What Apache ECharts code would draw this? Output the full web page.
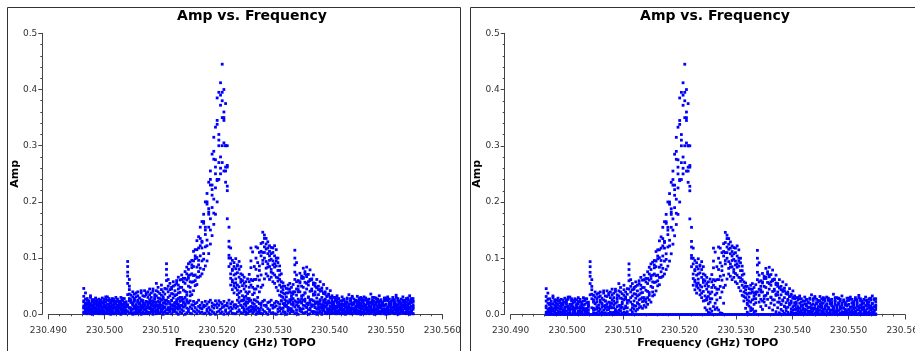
<!DOCTYPE html>
<html><head><meta charset="utf-8">
<script src="https://cdn.jsdelivr.net/npm/echarts@6/dist/echarts.min.js"></script>
<style>html,body{margin:0;padding:0;background:#fff}#c{width:915px;height:351px}</style>
</head><body><div id="c"></div>
<script>
// Channel grid (spectral window): first channel frequency and channel width, GHz
const chanStart = 230.4963;
const chanWidth = 0.0003;
const nChan = 196;
const chanFreq = Array.from({length: nChan}, (_, i) => chanStart + i * chanWidth);

// Amplitudes in units of 0.001 (line dataset, 6 baselines)
const lineAmp1 = [46,38,28,24,30,22,26,29,21,27, 25,29,22,27,31,24,20,28,26,23, 27,22,30,25,21,18,94,62,34,31,
 36,31,40,29,38,33,42,35,30,45, 38,41,35,55,48,37,44,40,46,90, 62,55,48,58,52,60,66,61,70,64,
 76,84,80,93,96,112,115,131,138,155, 165,178,200,215,235,255,285,315,333,385, 395,412,445,400,375,300,155,118,96,92,
 99,88,94,85,70,66,58,63,71,118, 111,85,120,118,110,126,146,141,135,129, 122,119,110,104,115,100,86,72,56,50,
 46,52,55,48,53,114,92,60,73,68, 82,76,84,71,79,63,70,55,62,50, 58,47,53,40,46,36,42,33,
 30,26,33,28,24,31,27,22,29,35, 25,30,27,23,32,28,26,24,31,29, 22,27,36,25,30,28,24,33,26,21, 29,25,31,27,23,30,26,34,28,24, 27,31,25,22,29,33,26,28];
const lineAmp2 = [24,20,17,14,19,16,12,18,15,20, 17,13,19,15,12,18,14,11,16,19, 14,16,12,18,11,13,75,44,22,19,
 23,17,25,20,15,24,19,22,16,26, 24,20,27,33,29,22,26,31,25,80, 40,33,37,29,42,35,45,39,48,43,
 55,61,69,70,83,85,99,101,118,122, 128,162,150,196,178,230,212,276,250,338, 300,372,395,345,300,262,130,90,78,70,
 81,74,66,62,51,45,40,37,48,83, 60,62,80,92,86,104,128,120,116,108, 112,98,95,90,86,78,70,58,44,36,
 31,38,40,33,36,88,70,44,56,50, 64,57,67,52,60,45,53,40,47,35, 41,30,37,27,32,24,29,21,
 18,14,20,16,12,19,15,21,13,17, 11,16,19,14,18,12,20,15,17,13, 19,15,12,18,16,21,14,17,11,19, 15,18,13,20,16,12,19,14,17,21, 13,16,18,12,15,19,14,17];
const lineAmp3 = [12,9,11,7,10,6,9,12,5,10, 8,11,6,9,7,10,5,8,11,6, 9,5,8,6,7,8,55,28,11,9,
 10,12,9,13,8,11,14,9,12,12, 12,9,14,16,11,13,10,15,12,60, 22,18,24,15,21,26,28,23,30,27,
 41,39,50,48,57,69,70,84,88,104, 118,108,142,132,182,170,222,205,262,240, 310,280,350,305,262,228,105,72,61,55,
 63,52,49,41,33,26,19,22,28,52, 35,38,45,50,61,70,96,100,94,90, 85,80,73,70,66,59,52,40,30,20,
 15,22,26,18,21,62,45,27,40,33, 48,38,45,31,41,26,34,22,29,18, 24,15,21,13,17,10,14,9,
 9,6,11,7,10,5,8,12,6,9, 7,10,5,11,8,6,9,12,7,10, 5,8,11,6,9,7,10,5,12,8, 6,9,11,7,10,5,8,12,6,9, 11,7,10,5,8,12,6,9];
const lineAmp4 = [4,2,5,3,1,4,2,3,2,4, 2,4,1,3,2,1,3,2,1,3, 2,3,1,4,2,3,35,12,3,2,
 3,1,2,4,2,3,1,2,4,3, 4,2,5,3,6,2,4,3,5,25, 8,5,10,6,9,12,14,11,16,13,
 18,26,22,33,35,42,51,53,66,68, 72,80,86,95,108,125,140,160,178,200, 240,250,270,255,235,170,85,52,44,38,
 47,35,30,24,12,8,4,2,6,14, 9,12,8,3,2,20,52,63,72,68, 62,66,58,55,48,42,34,24,11,4,
 1,7,9,5,6,40,22,14,9,22, 16,27,12,20,8,17,5,12,3,9, 6,2,7,4,1,5,3,2,
 3,1,4,2,2,3,1,4,2,3, 1,2,4,3,1,2,3,1,4,2, 3,1,2,4,3,1,2,3,1,4, 2,3,1,2,4,3,1,2,3,1, 4,2,3,1,2,4,3,1];
const lineAmp5 = [15,27,8,19,33,11,21,6,25,14, 20,7,26,12,18,28,9,23,15,30, 6,19,24,10,28,16,85,50,26,40,
 28,6,33,18,42,24,8,38,21,35, 17,45,30,8,40,19,52,28,36,70, 50,12,45,36,20,55,38,48,25,58,
 30,72,64,40,88,58,104,66,96,82, 130,98,155,122,188,150,230,180,275,238, 320,260,380,350,300,265,120,100,58,85,
 72,43,80,57,25,55,32,10,40,95, 48,26,100,68,40,112,110,135,82,118, 96,108,88,122,100,92,62,48,38,26,
 38,12,45,28,40,100,58,40,24,64, 34,72,55,30,62,42,56,35,48,18, 44,14,38,25,32,20,30,16,
 22,10,28,15,8,24,18,6,27,12, 19,32,9,25,14,21,5,28,16,11, 26,18,7,23,13,29,10,20,4,17, 24,8,27,14,19,6,22,30,12,18, 9,25,15,28,11,20,7,23];
const lineAmp6 = [32,5,20,12,7,26,16,24,10,18, 6,22,14,31,9,15,25,4,19,12, 23,11,17,28,5,22,68,36,8,20,
 14,38,22,4,26,16,32,13,40,20, 30,6,22,42,16,28,34,12,20,45, 30,44,16,50,33,18,52,30,62,22,
 64,34,90,58,72,95,60,115,76,135, 95,165,120,200,155,240,190,290,225,345, 270,390,300,360,255,220,100,64,80,50,
 56,86,38,72,60,30,50,28,58,62, 20,45,62,30,78,48,90,110,125,84, 104,75,118,84,95,65,78,32,50,18,
 24,45,10,38,28,75,34,50,58,28, 66,38,70,58,26,62,36,50,22,44, 26,42,12,36,20,34,8,28,
 12,30,5,22,17,9,26,13,20,4, 28,11,21,7,24,16,30,10,19,25, 8,22,14,30,6,18,27,12,23,9, 16,29,5,21,11,26,15,8,24,13, 20,4,22,17,26,10,28,14];

// Continuum-only baselines (left panel), units of 0.001
const noiseAmp1 = [22,18,25,20,16,24,19,23,17,21, 24,20,16,22,25,18,21,17,23,19, 16,23,20,25,18,22,17,24,21,19, 25,17,22,19,24,20,16,23,18,21,
 19,24,17,21,23,16,25,20,22,18, 23,19,25,17,20,22,18,24,16,21, 18,22,20,24,17,23,19,21,25,16, 21,16,23,18,22,25,20,17,24,19,
 24,21,18,23,16,20,25,19,22,17, 17,25,21,16,24,18,22,20,23,25, 20,18,24,22,19,17,23,25,16,21, 22,25,16,20,23,21,18,24,19,17,
 16,20,22,25,18,24,17,21,23,20, 25,23,19,17,21,16,24,18,20,22, 19,17,25,21,16,22,20,23,18,24, 23,21,18,16,25,19,22,17,24,20,
 18,24,20,23,17,21,25,16,22,19, 21,19,23,18,22,24,16,20,25,17, 24,16,21,25,20,18,23,19,17,22, 17,22,19,24,21,23];
const noiseAmp2 = [11,14,8,12,15,9,13,10,16,7, 13,9,15,11,8,14,10,16,12,9, 8,12,10,15,13,7,14,11,9,16, 14,10,13,8,11,16,9,12,15,10,
 9,15,11,14,7,12,16,10,13,8, 12,8,16,10,14,11,9,15,8,13, 15,11,9,13,10,16,12,8,14,11, 10,13,15,9,12,8,14,11,16,12,
 16,9,12,14,8,15,11,13,10,14, 11,14,8,16,13,10,15,9,12,7, 13,10,14,11,9,12,8,16,14,10, 8,16,11,13,15,9,12,10,11,15,
 14,12,9,10,16,13,8,15,11,9, 10,15,13,8,11,14,16,12,9,13, 12,9,16,14,10,8,13,11,15,12, 15,13,10,12,8,16,9,14,11,10,
 9,11,14,16,13,10,15,8,12,14, 14,8,12,9,15,11,13,16,10,8, 11,16,9,13,12,14,10,9,15,13, 13,10,15,11,8,12];
const noiseAmp3 = [2,4,1,5,3,0,4,2,6,1, 3,1,5,2,4,6,0,3,1,5, 4,2,0,3,6,1,5,2,4,0, 1,5,3,6,0,4,2,5,1,3,
 5,0,4,1,3,2,6,0,4,2, 2,6,1,4,5,3,0,4,2,6, 0,3,5,2,1,6,4,1,5,3, 4,1,2,6,3,0,5,3,0,4,
 6,2,4,0,5,1,3,6,2,1, 1,4,6,3,2,5,0,2,4,6, 3,5,0,4,6,2,1,5,3,0, 5,2,3,1,0,4,6,1,5,2,
 0,6,2,5,4,1,3,0,6,4, 2,3,4,0,1,5,2,4,0,3, 4,0,6,2,5,3,1,6,2,5, 1,5,1,4,2,0,6,3,5,1,
 6,2,3,5,0,4,2,1,3,6, 3,4,0,1,6,2,5,4,1,0, 5,1,4,3,2,6,0,3,6,2, 2,3,5,0,4,1];
// Flagged points (right panel) sit at zero amplitude
const flaggedAmp = 0;

const xTicks = {min: 230.49, max: 230.56, step: 0.01};
const yTicks = {min: 0, max: 0.5, step: 0.1};

function toPoints(rows) {
  const out = [];
  rows.forEach(r => r.forEach((v, i) => out.push([chanFreq[i], v / 1000])));
  return out;
}
const linePts = toPoints([lineAmp1, lineAmp2, lineAmp3, lineAmp4, lineAmp5, lineAmp6]);
const noisePts = toPoints([noiseAmp1, noiseAmp2, noiseAmp3]);
const flagPts = chanFreq.map(f => [f, flaggedAmp]);

const FONT = 'DejaVu Sans';
function xAx(gi) {
  return {
    gridIndex: gi, type: 'value', min: xTicks.min, max: xTicks.max, interval: xTicks.step, offset: 6,
    name: 'Frequency (GHz) TOPO', nameLocation: 'middle', nameGap: 17, nameMoveOverlap: false,
    nameTextStyle: {fontFamily: FONT, fontWeight: 'bold', fontSize: 11, color: '#000'},
    axisLine: {show: true, lineStyle: {color: '#444', width: 1}},
    axisTick: {show: true, length: 5, lineStyle: {color: '#444'}},
    minorTick: {show: true, splitNumber: 5, length: 2, lineStyle: {color: '#444'}},
    splitLine: {show: false},
    axisLabel: {fontFamily: FONT, fontSize: 9, color: '#333', margin: 6, formatter: v => v.toFixed(3)}
  };
}
function yAx(gi) {
  return {
    gridIndex: gi, type: 'value', min: yTicks.min, max: yTicks.max, interval: yTicks.step, offset: 6,
    name: 'Amp', nameLocation: 'middle', nameGap: 22, nameRotate: 90, nameMoveOverlap: false,
    nameTextStyle: {fontFamily: FONT, fontWeight: 'bold', fontSize: 11, color: '#000'},
    axisLine: {show: true, lineStyle: {color: '#444', width: 1}},
    axisTick: {show: true, length: 4, lineStyle: {color: '#444'}},
    minorTick: {show: true, splitNumber: 5, length: 2, lineStyle: {color: '#444'}},
    splitLine: {show: false},
    axisLabel: {fontFamily: FONT, fontSize: 9, color: '#333', margin: 5, formatter: v => v.toFixed(1)}
  };
}
function sc(gi, data) {
  return {type: 'scatter', xAxisIndex: gi, yAxisIndex: gi, data, symbol: 'rect', symbolSize: 2.8,
    itemStyle: {color: '#0000ff', opacity: 1}, silent: true, clip: true};
}
const chart = echarts.init(document.getElementById('c'), null, {renderer: 'canvas'});
chart.setOption({
  animation: false,
  backgroundColor: '#fff',
  title: [
    {text: 'Amp vs. Frequency', left: 252, top: 9, textAlign: 'center', padding: 0,
     textStyle: {fontFamily: FONT, fontWeight: 'bold', fontSize: 14, color: '#000'}},
    {text: 'Amp vs. Frequency', left: 715, top: 9, textAlign: 'center', padding: 0,
     textStyle: {fontFamily: FONT, fontWeight: 'bold', fontSize: 14, color: '#000'}}
  ],
  graphic: [
    {type: 'rect', shape: {x: 7.5, y: 7.5, width: 453, height: 400}, style: {fill: 'none', stroke: '#333', lineWidth: 1}, silent: true},
    {type: 'rect', shape: {x: 470.5, y: 7.5, width: 500, height: 400}, style: {fill: 'none', stroke: '#333', lineWidth: 1}, silent: true}
  ],
  grid: [
    {left: 48.3, right: 915 - 442.3, top: 33.3, bottom: 351 - 314.3, outerBoundsMode: 'none', containLabel: false},
    {left: 510.7, right: 915 - 905, top: 33.3, bottom: 351 - 314.5, outerBoundsMode: 'none', containLabel: false}
  ],
  xAxis: [xAx(0), xAx(1)],
  yAxis: [yAx(0), yAx(1)],
  series: [
    sc(0, noisePts), sc(0, linePts),
    sc(1, flagPts), sc(1, linePts)
  ]
});
</script></body></html>
